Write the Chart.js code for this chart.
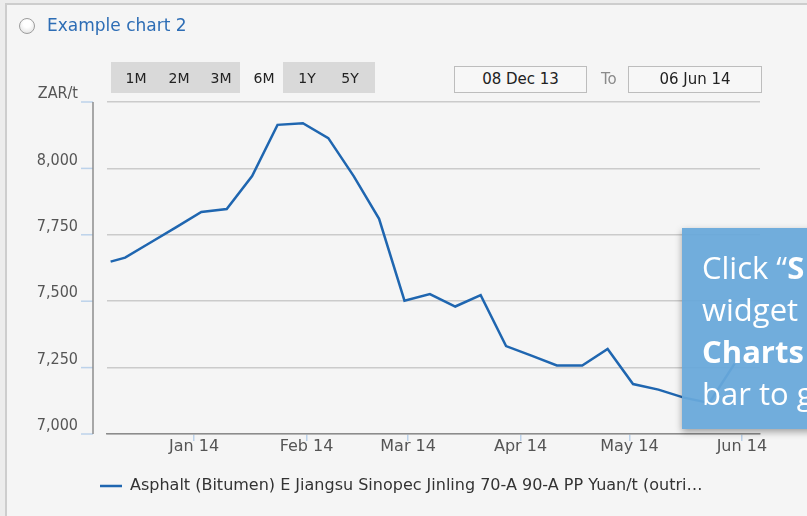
<!DOCTYPE html>
<html>
<head>
<meta charset="utf-8">
<title>Example chart 2</title>
<script src="https://cdn.jsdelivr.net/npm/chart.js@4.4.1/dist/chart.umd.min.js"></script>
<style>
    html, body { margin: 0; padding: 0; }
    body {
        width: 807px; height: 516px; overflow: hidden; position: relative;
        background: #ececec;
        font-family: 'DejaVu Sans', sans-serif;
    }
    .panel {
        position: absolute; left: 5px; top: 3px; right: -4px; bottom: -4px;
        background: #f5f5f5; border-left: 2px solid #cdcdcd; border-top: 2px solid #cdcdcd;
    }
    #chart { position: absolute; left: 0; top: 0; }
    .radio {
        position: absolute; left: 19px; top: 18px; width: 14px; height: 14px; border-radius: 50%;
        border: 1.5px solid #9c9c9c; background: radial-gradient(circle at 50% 35%, #fff 30%, #dcdcdc 100%);
    }
    .title { position: absolute; left: 47px; top: 15px; font-size: 17px; line-height: 20px; color: #2d6db5; }
    .btns { position: absolute; top: 62px; height: 31px; background: #d9d9d9; }
    .btn { position: absolute; top: 70px; font-size: 14px; line-height: 16px; color: #222; transform: translateX(-50%); }
    .date {
        position: absolute; top: 66px; height: 25px; border: 1px solid #bdbdbd; background: #f7f7f7;
        font-size: 15px; line-height: 25px; text-align: center; color: #222;
    }
    .to { position: absolute; left: 601px; top: 67px; font-size: 15px; line-height: 25px; color: #8a8a8a; }
    .tip {
        position: absolute; left: 682px; top: 228px; width: 140px; height: 201px;
        background: rgba(104, 168, 218, 0.94); box-shadow: 0 3px 7px rgba(0,0,0,0.35);
        font-family: 'Open Sans', sans-serif; font-size: 31px; line-height: 42px; color: #fff;
        padding: 18px 0 0 20px; box-sizing: border-box; white-space: nowrap;
    }
    .tip b { font-weight: 700; }
</style>
</head>
<body>
<div class="panel"></div>
<canvas id="chart" width="807" height="516"></canvas>
<div class="radio"></div>
<div class="title">Example chart 2</div>
<div class="btns" style="left:111px; width:129px;"></div>
<div class="btns" style="left:283px; width:92px;"></div>
<span class="btn" style="left:136px;">1M</span>
<span class="btn" style="left:179px;">2M</span>
<span class="btn" style="left:221px;">3M</span>
<span class="btn" style="left:264px;">6M</span>
<span class="btn" style="left:307px;">1Y</span>
<span class="btn" style="left:350px;">5Y</span>
<div class="date" style="left:454px; width:131px;">08 Dec 13</div>
<div class="to">To</div>
<div class="date" style="left:628px; width:132px;">06 Jun 14</div>
<div class="tip">Click “<b>S</b><br>widget<br><b>Charts</b><br>bar to g</div>

<script>
// Weekly prices
const dates = ['2013-12-09', '2013-12-13', '2013-12-20', '2013-12-27', '2014-01-03', '2014-01-10',
    '2014-01-17', '2014-01-24', '2014-01-31', '2014-02-07', '2014-02-14', '2014-02-21', '2014-02-28',
    '2014-03-07', '2014-03-14', '2014-03-21', '2014-03-28', '2014-04-04', '2014-04-11', '2014-04-18',
    '2014-04-25', '2014-05-02', '2014-05-09', '2014-05-16', '2014-05-23', '2014-05-30'];
const prices = [7649, 7664, 7721, 7778, 7836, 7847, 7971, 8164, 8170, 8114, 7971, 7810, 7502,
    7527, 7480, 7523, 7331, 7295, 7258, 7258, 7320, 7188, 7167, 7137, 7117, 7265];

const rangeStart = '2013-12-08';
const rangeEnd = '2014-06-06';
const monthTicks = ['2014-01-01', '2014-02-01', '2014-03-01', '2014-04-01', '2014-05-01', '2014-06-01'];
const monthLabels = ['Jan 14', 'Feb 14', 'Mar 14', 'Apr 14', 'May 14', 'Jun 14'];
const yTicks = [7000, 7250, 7500, 7750, 8000, 8250];
const yTickLabels = ['7,000', '7,250', '7,500', '7,750', '8,000', 'ZAR/t'];
const seriesName = 'Asphalt (Bitumen) E Jiangsu Sinopec Jinling 70-A 90-A PP Yuan/t (outri…';

const chartFont = "'DejaVu Sans', sans-serif";
const yFont = "16px 'DejaVu Sans Condensed', 'DejaVu Sans', sans-serif";

// Detached y axis: line, little blue ticks and labels sitting just above each grid line
const yAxisDeco = {
    id: 'yAxisDeco',
    afterDraw(chart) {
        const { ctx, chartArea } = chart;
        const y = chart.scales.y;
        const ax = chartArea.left - 14;
        ctx.save();
        ctx.lineWidth = 1.5;
        y.ticks.forEach(t => {
            const py = y.getPixelForValue(t.value);
            ctx.strokeStyle = '#bcd2ea';
            ctx.beginPath();
            ctx.moveTo(ax - 12, py);
            ctx.lineTo(ax, py);
            ctx.stroke();
            ctx.fillStyle = '#555';
            ctx.font = yFont;
            ctx.textAlign = 'right';
            ctx.textBaseline = 'middle';
            ctx.fillText(t.label, ax - 15, py - 8);
        });
        ctx.strokeStyle = '#8c8c8c';
        ctx.beginPath();
        ctx.moveTo(ax, chartArea.top);
        ctx.lineTo(ax, chartArea.bottom);
        ctx.stroke();
        ctx.restore();
    }
};

function setupChart() {
    const ctx = document.getElementById('chart').getContext('2d');
    new Chart(ctx, {
        type: 'line',
        data: {
            datasets: [{
                label: seriesName,
                data: dates.map((d, i) => ({ x: Date.parse(d), y: prices[i] })),
                borderColor: '#1f66b0',
                backgroundColor: '#1f66b0',
                borderWidth: 2.5,
                pointRadius: 0,
                tension: 0,
                fill: false
            }]
        },
        options: {
            responsive: false,
            animation: false,
            events: [],
            layout: { padding: { left: 90, top: 102, right: 47, bottom: 12 } },
            plugins: {
                tooltip: { enabled: false },
                legend: {
                    position: 'bottom',
                    align: 'start',
                    labels: {
                        usePointStyle: true,
                        pointStyle: 'line',
                        pointStyleWidth: 22,
                        padding: 10,
                        color: '#333',
                        font: { family: chartFont, size: 16 }
                    }
                }
            },
            scales: {
                x: {
                    type: 'linear',
                    min: Date.parse(rangeStart),
                    max: Date.parse(rangeEnd),
                    afterBuildTicks: s => { s.ticks = monthTicks.map(d => ({ value: Date.parse(d) })); },
                    afterFit: s => { s.height = 34; },
                    grid: { drawOnChartArea: false, tickLength: 7, tickColor: '#bcd2ea', lineWidth: 1.5 },
                    border: { color: '#8c8c8c', width: 1.5 },
                    ticks: {
                        padding: -2,
                        maxRotation: 0,
                        color: '#555',
                        font: { family: chartFont, size: 16, lineHeight: 1 },
                        callback: (v, i) => monthLabels[i]
                    }
                },
                y: {
                    min: 7000,
                    max: 8250,
                    afterBuildTicks: s => { s.ticks = yTicks.map(v => ({ value: v })); },
                    afterFit: s => { s.width = 17; },
                    grid: { color: '#cbcbcb', lineWidth: 1.5, drawTicks: false },
                    border: { display: false },
                    ticks: {
                        display: false,
                        callback: (v, i) => yTickLabels[i]
                    }
                }
            }
        },
        plugins: [yAxisDeco]
    });
}

window.onload = setupChart;
</script>
</body>
</html>
